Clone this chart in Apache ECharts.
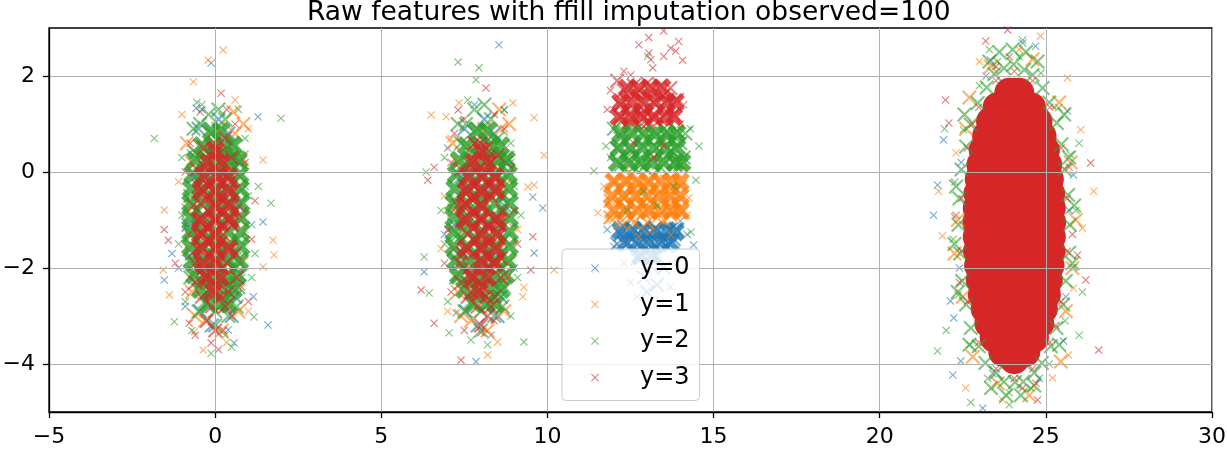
<!DOCTYPE html>
<html>
<head>
<meta charset="utf-8">
<title>Raw features with ffill imputation</title>
<script src="https://cdn.jsdelivr.net/npm/echarts@6/dist/echarts.min.js"></script>
<style>
html, body { margin: 0; padding: 0; background: #fff; }
#main { width: 1227px; height: 450px; }
</style>
</head>
<body>
<div id="main"></div>
<script>
// classes and tick values
var classNames = ['y=0', 'y=1', 'y=2', 'y=3'];
var yTicks = [-4, -2, 0, 2];

// y=0 (blue)
var y0Dense = [
    [-0.5,0.9],[0.4,0.8],[0.7,-0.7],[-0.8,-1.1],[0.6,-2.6],[-0.3,-2.2],[0.2,-0.4],[-0.6,-0.1],[0.5,-3.0],[-0.1,-1.4],[0.3,-1.8],[-0.45,-2.9],
    [-0.7,-1.7],[0.75,0.2],[0.1,1.1],[-0.1,-3.2],
    [7.5,0.9],[8.4,0.8],[8.7,-0.7],[7.2,-1.1],[8.6,-2.6],[7.7,-2.2],[8.2,-0.4],[7.4,-0.1],[8.5,-3.0],[7.9,-1.4],[8.3,-1.8],[7.55,-2.9],
    [7.3,-1.7],[8.75,0.2],[8.1,1.1],[7.9,-3.2],
    [12.2,-1.3],[12.6,-1.2],[13.0,-1.35],[13.4,-1.25],[13.8,-1.4],[12.4,-1.5],[12.8,-1.55],[13.2,-1.5],[13.6,-1.55],[12.9,-1.15],
    [13.3,-1.75],[12.7,-1.8],[13.1,-1.95],[13.5,-2.0],[12.9,-2.2],[13.3,-2.35],[13.0,-2.5],[12.3,-1.15],[13.7,-1.2],
    [12.5,-1.35],[13.2,-1.2],[13.9,-1.2],[12.1,-1.5],[13.5,-1.4],[12.9,-1.4]
];
var y0Sparse = [
    [-0.12,2.27],[-0.57,1.33],[-0.4,1.3],[1.29,1.15],[1.59,-3.19],[1.15,-2.6],[-1.53,-2.25],[-1.1,-2.0],[0.39,-3.29],[0.57,-3.56],
    [1.44,-1.04],[-0.75,0.4],[0.9,-0.3],[1.1,-1.1],[0.8,-2.2],[-0.9,-2.8],[0.45,0.3],[-1.3,-1.7],
    [8.54,2.65],[9.86,-0.75],[7.85,-3.95],[6.29,-2.08],[9.6,-1.69],[7.25,-2.94],[8.7,1.29],[9.56,-0.52],[7.0,0.5],[9.0,-2.0],
    [6.9,-1.3],[8.9,0.2],[7.8,1.4],[8.3,-3.4],
    [11.8,-1.2],[14.0,-1.02],[14.4,-1.52],[11.46,-2.04],[14.2,-1.3],[12.0,-1.55],[12.5,-2.3],[13.7,-2.4],[13.4,-2.7],[12.7,-2.6],
    [13.9,-1.9],[12.3,-1.9],[13.6,-1.1],
    [21.74,-0.27],[21.62,-0.9],[21.92,0.67],[22.2,-4.23],[22.44,-3.94],[23.1,-4.92],[22.23,-3.04],[22.13,-2.69],[23.34,2.33],
    [24.3,2.69],[24.69,2.62],[25.65,1.27],[25.83,-0.06],[25.53,-3.52],[25.7,-0.8],[22.4,-2.0],[25.6,-2.6],[22.45,0.2],[23.2,2.0],
    [24.8,-4.3],[23.4,-4.2]
];
var y0Mass = [
    [12.2,-1.22],[12.55,-1.22],[12.9,-1.22],[13.25,-1.22],[13.6,-1.22],[13.85,-1.25],
    [12.35,-1.47],[12.7,-1.47],[13.05,-1.47],[13.4,-1.47],[13.7,-1.47],
    [12.8,-1.75],[13.15,-1.75]
];

// y=1 (orange)
var y1Dense = [
    [0.6,0.8],[0.8,0.3],[0.7,-0.3],[-0.7,0.2],[-0.8,-0.8],[0.8,-1.9],[-0.7,-2.5],[0.3,-2.7],[-0.3,-3.1],[0.1,0.9],[-0.3,0.5],
    [0.5,-1.5],[-0.5,-1.2],[0.2,-3.3],[0.85,1.0],[-0.55,-2.0],[0.4,0.1],[-0.1,-2.3],
    [-0.8,-1.6],[0.75,-1.0],[0.55,1.25],[-0.6,-3.0],[0.7,-2.9],[-0.85,0.6],[0.35,0.5],[0.0,-1.4],
    [8.6,0.9],[8.8,0.3],[8.7,-0.3],[7.3,0.2],[7.2,-0.8],[8.8,-1.9],[7.3,-2.5],[8.3,-2.7],[7.7,-3.1],[8.1,0.9],[7.7,0.5],
    [8.5,-1.5],[7.5,-1.2],[8.2,-3.3],[8.85,1.0],[7.45,-2.0],[8.4,0.1],[7.9,-2.3],
    [7.2,-1.6],[8.75,-1.0],[8.55,1.3],[7.4,-3.0],[8.7,-2.9],[7.15,0.6],[8.35,0.5],[8.0,-1.4],
    [12.0,-0.2],[12.4,-0.15],[12.8,-0.25],[13.2,-0.1],[13.6,-0.2],[14.0,-0.3],[11.9,-0.6],[12.3,-0.55],[12.7,-0.5],[13.1,-0.6],
    [13.5,-0.5],[13.9,-0.65],[12.1,-0.9],[12.5,-0.95],[12.9,-0.85],[13.3,-0.95],[13.7,-0.9],[12.6,-0.35],[13.4,-0.4],[12.2,-1.05],
    [13.0,-1.05],[12.2,-0.35],[13.0,-0.35],[13.8,-0.4],[12.4,-0.75],[12.8,-0.7],[13.2,-0.8],[13.6,-0.75],[14.05,-0.85],
    [11.9,-0.95],[13.5,-1.0],[12.6,-1.05],
    [25.8,-2.0],[25.6,-2.9],[25.75,0.2],[22.35,-1.0],[22.5,-2.6],[22.6,0.9],[23.35,2.2],[24.6,2.35],[23.55,-4.4],[24.5,-4.65],
    [22.8,-3.85],[25.45,-3.95],[25.4,1.45],[22.7,1.55],[25.9,-1.0],[22.25,-1.7]
];
var y1Sparse = [
    [0.24,2.54],[-0.21,2.33],[-0.66,1.88],[1.74,-1.42],[1.77,-1.73],[1.44,0.25],[1.44,-1.98],[-1.56,-2.04],[-1.38,-2.56],
    [-1.53,-0.79],[-0.36,-3.71],[-0.63,-3.33],[1.0,0.9],[-1.1,-0.2],[1.0,-2.9],[0.9,-1.2],[-1.0,1.2],[0.6,1.5],[0.35,-3.55],
    [6.5,1.19],[9.6,1.13],[9.9,0.35],[10.2,-2.04],[9.41,-0.31],[8.2,-3.81],[8.5,-3.54],[9.29,-2.4],[9.26,-2.6],[6.95,1.15],
    [7.34,1.44],[8.96,1.44],[9.6,-0.27],[6.9,-0.5],[6.8,-1.6],[7.0,-2.9],[9.1,-1.2],[7.1,0.7],
    [11.52,-0.85],[14.26,-0.54],[11.7,-0.3],[14.2,-0.9],[12.75,-1.35],[13.71,-1.31],[11.8,-1.0],[14.1,0.05],[13.1,-1.25],[12.4,0.05],
    [26.44,-0.4],[26.05,0.88],[25.68,-3.81],[25.65,1.96],[22.59,-4.5],[21.77,-0.4],[21.89,-1.33],[24.84,2.83],[25.2,-4.29],
    [26.1,-1.17],[25.83,-2.42],[23.0,2.3],[23.7,-4.75],[22.3,0.4],[24.2,2.55]
];
var y1Mass = [
    [12.0,-0.2],[12.35,-0.2],[12.7,-0.2],[13.05,-0.2],[13.4,-0.2],[13.75,-0.2],[14.0,-0.2],
    [11.95,-0.5],[12.3,-0.5],[12.65,-0.5],[13.0,-0.5],[13.35,-0.5],[13.7,-0.5],[14.0,-0.5],
    [12.0,-0.8],[12.35,-0.8],[12.7,-0.8],[13.05,-0.8],[13.4,-0.8],[13.75,-0.8],[14.0,-0.8]
];

// y=2 (green)
var y2Dense = [
    [-0.6,0.4],[0.5,0.6],[-0.1,0.8],[0.2,0.2],[-0.5,-0.4],[0.6,-0.5],[-0.7,-1.3],[0.7,-1.4],[-0.4,-2.3],[0.5,-2.4],[0,-2.9],
    [-0.3,-2.7],[0.4,-3.0],[-0.6,-1.9],[0.6,-2.0],[0.05,-1.2],[-0.2,-0.3],[0.35,-0.9],[-0.35,-1.6],[0.15,-2.1],[-0.65,0.9],
    [0.3,1.1],[-0.2,1.2],[0.75,-0.1],[-0.75,-0.5],[0.1,-0.6],[-0.5,-2.9],[0.65,-2.8],[-0.15,-1.9],[0.5,-1.1],
    [-0.4,0.2],[0.4,-0.1],[0.0,0.1],[-0.1,-0.6],[0.6,-1.8],[-0.6,-1.0],[0.2,-1.6],[-0.25,-2.5],[0.3,-2.3],[0.7,-2.4],
    [-0.75,-2.2],[0.1,1.3],[-0.45,1.0],[0.6,0.3],[0.0,-3.2],
    [7.4,0.6],[8.5,0.7],[7.9,0.9],[8.2,0.3],[7.5,-0.4],[8.6,-0.5],[7.3,-1.3],[8.7,-1.4],[7.6,-2.3],[8.5,-2.4],[8.0,-2.9],
    [7.7,-2.7],[8.4,-3.0],[7.4,-1.9],[8.6,-2.0],[8.05,-1.2],[7.8,-0.3],[8.35,-0.9],[7.65,-1.6],[8.15,-2.1],[7.3,1.0],
    [8.3,1.1],[7.8,1.3],[8.75,-0.1],[7.25,-0.6],[8.1,-0.6],[7.5,-2.9],[8.65,-2.8],[7.85,-1.9],[8.5,-1.1],
    [7.6,0.2],[8.4,-0.1],[8.0,0.1],[7.9,-0.6],[8.6,-1.7],[7.4,-1.0],[8.2,-1.6],[7.75,-2.5],[8.3,-2.3],[8.7,-2.4],
    [7.25,-2.2],[8.1,1.4],[7.55,1.0],[8.6,0.3],[8.0,-3.3],
    [12.2,0.15],[12.6,0.1],[13.0,0.2],[13.4,0.1],[13.8,0.2],[14.1,0.3],[12.1,0.5],[12.5,0.45],[12.9,0.55],[13.3,0.5],
    [13.7,0.45],[14.0,0.6],[12.3,0.85],[12.7,0.9],[13.1,0.8],[13.5,0.9],[13.9,0.85],[12.8,0.3],[13.6,0.7],
    [12.4,0.3],[13.2,0.3],[14.0,0.15],[12.2,0.7],[13.0,0.7],[13.4,0.7],[13.8,0.65],[12.5,0.95],[12.9,0.1],[13.6,0.35],
    [12.0,0.9],[14.15,0.8],
    [25.72,-1.1],[25.67,-0.48],[25.57,0.05],[25.47,0.58],[25.33,1.02],[25.1,1.45],[24.9,1.75],[24.6,2.02],[24.35,2.13],
    [24.03,2.24],[23.74,2.16],[23.45,2.04],[23.22,1.76],[22.95,1.44],[22.74,0.99],[22.6,0.53],[22.46,0.05],[22.4,-0.55],
    [22.37,-1.1],[22.42,-1.7],[22.48,-2.27],[22.6,-2.76],[22.74,-3.25],[22.98,-3.63],[23.18,-3.98],[23.5,-4.18],
    [23.74,-4.37],[24.07,-4.38],[24.32,-4.37],[24.65,-4.18],[24.88,-3.98],[25.15,-3.63],[25.32,-3.25],[25.52,-2.76],
    [25.6,-2.27],[25.7,-1.68],
    [23.6,2.5],[24.0,2.55],[24.4,2.5],[23.3,2.3],[24.75,2.3],[23.35,-4.5],[23.8,-4.65],[24.25,-4.65],[24.65,-4.45],
    [22.3,-0.3],[22.25,-1.5],[25.85,-0.7],[25.8,-1.9],[22.35,-2.5],[25.7,0.3],[22.55,1.2],[25.55,1.2],[22.7,-3.6],[25.4,-3.6]
];
var y2Sparse = [
    [-1.83,0.7],[1.98,1.12],[-1.23,-3.12],[1.68,-0.65],[1.17,-3.02],[-0.12,-3.78],[-1.0,0.3],[1.0,-0.5],[-1.1,-1.5],[1.1,-2.2],
    [-0.9,-2.7],[-0.4,1.4],[0.7,1.3],[0.3,-3.4],[1.3,-0.3],[0.9,0.7],[-1.0,-0.9],[1.2,-1.7],[-0.7,-3.3],[0.5,-3.65],[-0.55,1.45],
    [7.31,2.29],[7.94,2.17],[7.85,1.92],[6.44,-2.52],[7.04,-3.35],[9.29,-3.54],[6.29,-1.77],[6.35,0.0],[6.9,0.3],[9.0,-0.3],
    [6.9,-1.5],[9.1,-2.2],[7.0,-2.7],[8.9,-3.0],[7.6,1.5],[8.7,1.3],[8.2,-3.6],[7.7,-3.5],[9.2,-0.9],[6.8,-0.8],[8.9,0.6],
    [11.4,0.02],[14.56,0.54],[11.76,0.54],[14.47,-0.17],[13.02,2.41],[12.1,1.05],[14.3,0.9],[12.9,-0.4],[13.3,-0.7],[12.4,-0.8],
    [11.9,0.3],[14.32,-1.25],[13.8,-0.3],
    [25.9,-0.8],[25.74,0.36],[25.39,1.34],[24.85,2.06],[24.2,2.4],[23.55,2.3],[23.0,1.8],[22.52,0.88],[22.26,-0.21],
    [22.21,-1.4],[22.36,-2.56],[22.71,-3.6],[23.25,-4.3],[23.9,-4.6],[24.55,-4.5],[25.1,-4.0],[25.58,-3.1],[25.84,-1.99],
    [23.3,2.55],[24.3,2.75],[22.74,-4.8],[21.74,-3.73],[23.9,-4.85],[22.0,-3.3],[26.0,-3.4],[26.0,0.6],[21.95,0.9],[26.1,-2.5]
];
var y2Mass = [
    [-0.12,0.85],[0.18,0.85],
    [-0.4,0.55],[-0.05,0.55],[0.3,0.55],[0.55,0.55],
    [-0.6,0.25],[-0.25,0.25],[0.1,0.25],[0.45,0.25],[0.7,0.25],
    [-0.68,-0.05],[-0.32,-0.05],[0.03,-0.05],[0.4,-0.05],[0.75,-0.05],
    [-0.72,-0.35],[-0.35,-0.35],[0.02,-0.35],[0.38,-0.35],[0.76,-0.35],
    [-0.74,-0.65],[-0.36,-0.65],[0.02,-0.65],[0.4,-0.65],[0.78,-0.65],
    [-0.74,-0.95],[-0.36,-0.95],[0.02,-0.95],[0.4,-0.95],[0.78,-0.95],
    [-0.74,-1.25],[-0.36,-1.25],[0.02,-1.25],[0.4,-1.25],[0.78,-1.25],
    [-0.74,-1.55],[-0.36,-1.55],[0.02,-1.55],[0.4,-1.55],[0.78,-1.55],
    [-0.7,-1.85],[-0.34,-1.85],[0.02,-1.85],[0.38,-1.85],[0.74,-1.85],
    [-0.62,-2.15],[-0.28,-2.15],[0.05,-2.15],[0.4,-2.15],[0.68,-2.15],
    [-0.45,-2.45],[-0.1,-2.45],[0.25,-2.45],[0.55,-2.45],
    [-0.2,-2.75],[0.15,-2.75],[0.4,-2.75],
    [7.87,0.85],[8.2,0.85],
    [7.56,0.55],[7.95,0.55],[8.33,0.55],[8.6,0.55],
    [7.34,0.25],[7.72,0.25],[8.11,0.25],[8.5,0.25],[8.77,0.25],
    [7.25,-0.05],[7.65,-0.05],[8.03,-0.05],[8.44,-0.05],[8.83,-0.05],
    [7.21,-0.35],[7.62,-0.35],[8.02,-0.35],[8.42,-0.35],[8.84,-0.35],
    [7.18,-0.65],[7.6,-0.65],[8.02,-0.65],[8.44,-0.65],[8.86,-0.65],
    [7.18,-0.95],[7.6,-0.95],[8.02,-0.95],[8.44,-0.95],[8.86,-0.95],
    [7.18,-1.25],[7.6,-1.25],[8.02,-1.25],[8.44,-1.25],[8.86,-1.25],
    [7.18,-1.55],[7.6,-1.55],[8.02,-1.55],[8.44,-1.55],[8.86,-1.55],
    [7.23,-1.85],[7.63,-1.85],[8.02,-1.85],[8.42,-1.85],[8.81,-1.85],
    [7.32,-2.15],[7.69,-2.15],[8.05,-2.15],[8.44,-2.15],[8.75,-2.15],
    [7.5,-2.45],[7.89,-2.45],[8.27,-2.45],[8.6,-2.45],
    [7.78,-2.75],[8.16,-2.75],[8.44,-2.75],
    [12.1,0.2],[12.45,0.2],[12.8,0.2],[13.15,0.2],[13.5,0.2],[13.85,0.2],[14.05,0.2],
    [12.15,0.5],[12.5,0.5],[12.85,0.5],[13.2,0.5],[13.55,0.5],[13.9,0.5],
    [12.2,0.8],[12.55,0.8],[12.9,0.8],[13.25,0.8],[13.6,0.8],[13.9,0.8]
];

// y=3 (red)
var y3Dense = [
    [0,-1],[-0.3,-0.6],[0.3,-0.7],[-0.2,-1.4],[0.25,-1.3],[-0.5,-1.0],[0.5,-1.1],[0,-0.2],[-0.3,0.1],[0.25,-0.05],[0,-1.8],
    [-0.35,-2.0],[0.35,-1.9],[0.05,-2.4],[-0.1,-0.9],[0.1,-0.5],[-0.55,-1.6],[0.55,-0.4],[-0.1,-2.8],[0.4,-2.5],[-0.5,-0.3],
    [0.15,0.4],[-0.6,-2.3],[0.15,-1.5],[-0.25,-3.1],[0.6,-1.7],[-0.65,-0.7],[0.3,0.7],[-0.35,0.5],[0.65,-2.2],
    [-0.2,-0.3],[0.4,-1.0],[-0.4,-1.3],[0.2,-2.0],[-0.2,-2.2],[0.45,-0.2],[-0.45,-0.65],[0.05,-0.75],[-0.05,-1.6],[0.3,-2.8],
    [-0.4,-2.6],[0.5,0.3],[-0.55,0.05],[0.0,0.6],[0.2,-1.1],[-0.25,-1.15],[0.6,-0.8],[-0.6,-1.9],[0.15,-2.6],[0.0,-3.3],
    [8.0,-1.0],[7.7,-0.55],[8.3,-0.5],[7.8,-1.4],[8.25,-1.3],[7.45,-1.0],[8.55,-1.1],[8.0,-0.1],[7.7,0.15],[8.3,0.2],[8.0,-1.8],
    [7.65,-2.0],[8.35,-1.9],[8.05,-2.4],[7.85,-0.9],[8.1,-0.4],[7.45,-1.7],[8.5,-0.3],[7.9,-2.8],[8.4,-2.6],[7.55,-0.3],
    [8.15,0.5],[7.4,-2.3],[8.1,-1.5],[7.8,0.6],[8.6,-1.8],[7.3,-0.7],[8.6,-2.2],[7.7,-2.5],[8.2,-3.0],
    [7.8,-0.3],[8.4,-1.0],[7.6,-1.3],[8.2,-2.0],[7.8,-2.2],[8.45,-0.15],[7.55,-0.65],[8.05,-0.75],[7.95,-1.6],[8.3,-2.8],
    [7.6,-2.6],[8.5,0.35],[7.4,0.05],[8.0,0.6],[8.2,-1.1],[7.75,-1.15],[8.65,-0.8],[7.35,-1.9],[8.15,-2.6],[8.0,-3.2],
    [12.2,1.15],[12.6,1.1],[13.0,1.2],[13.4,1.1],[13.8,1.2],[12.4,1.45],[12.8,1.5],[13.2,1.45],[13.6,1.5],[12.6,1.8],
    [13.0,1.85],[13.4,1.8],[12.3,1.7],[13.7,1.75],[12.9,1.3],[12.5,1.25],
    [12.1,1.9],[12.2,1.4],[12.8,1.2],[13.2,1.15],[13.6,1.25],[13.9,1.5],[12.7,1.65],[13.1,1.65],[13.5,1.6],[12.45,1.05],[13.05,1.05]
];
var y3Sparse = [
    [-1.53,-1.2],[-1.41,-1.42],[-0.78,-3.15],[-0.12,-3.56],[0.18,1.64],[-0.8,-1.3],[0.85,-0.8],[-0.75,0.6],[0.6,1.0],[-0.9,-2.5],
    [0.8,-2.4],[0.35,1.3],[-0.45,1.25],[-1.2,-1.9],[1.1,-1.4],[0.25,-3.3],[0.5,-3.0],[-0.9,0.0],[0.9,0.2],[1.0,-2.7],[-0.6,-3.4],
    [0.1,-3.7],[1.2,-0.6],
    [6.2,-2.46],[6.59,-3.15],[7.4,-3.92],[8.0,-3.35],[9.56,-1.35],[6.4,-0.17],[6.59,0.1],[9.5,-2.04],[7.31,1.29],[8.15,1.75],
    [7.0,-1.2],[9.0,-0.8],[7.2,0.8],[8.7,0.9],[7.1,-2.5],[8.8,-2.2],[8.4,1.2],[7.5,1.1],[6.9,-1.9],[9.1,-1.5],[7.5,-3.3],
    [8.4,-3.1],[7.1,0.2],[8.9,0.1],
    [13.5,2.94],[13.05,2.8],[12.75,2.65],[13.71,2.58],[13.95,2.72],[13.86,2.52],[14.07,2.33],[13.5,2.41],[13.11,2.34],
    [13.17,2.17],[12.3,2.1],[12.51,2.02],[13.05,2.48],[11.8,1.3],[14.1,1.4],[11.9,1.7],[14.0,1.0],[12.6,0.6],[13.2,0.3],
    [13.5,0.55],[12.9,0.95],
    [25.64,-0.55],[25.46,0.5],[25.12,1.35],[24.6,1.9],[24.05,2.1],[23.5,1.9],[22.98,1.35],[22.64,0.5],[22.46,-0.55],
    [22.46,-1.65],[22.64,-2.7],[22.98,-3.55],[23.5,-4.1],[24.05,-4.3],[24.6,-4.1],[25.12,-3.55],[25.46,-2.7],[25.64,-1.65],
    [21.98,1.5],[23.85,2.96],[26.35,0.19],[26.2,-2.25],[26.59,-3.71],[24.75,-4.75],[23.19,2.73],[22.08,1.02],[25.95,-1.73],
    [25.8,-1.3],[22.3,-0.9],[25.7,0.1],[22.4,-2.3],[23.9,2.4],[24.3,-4.5],[23.5,2.2],[24.7,-4.4],[22.8,1.0],[25.3,-3.2]
];
var y3Mass = [
    [0.0,0.45],
    [-0.2,0.2],[0.2,0.2],
    [-0.35,-0.1],[0.05,-0.1],[0.4,-0.1],
    [-0.42,-0.4],[0.0,-0.4],[0.42,-0.4],
    [0.0,-0.7],[0.45,-0.7],
    [-0.45,-1.0],[0.0,-1.0],[0.45,-1.0],
    [-0.45,-1.3],[0.0,-1.3],
    [-0.42,-1.6],[0.02,-1.6],[0.42,-1.6],
    [-0.38,-1.9],[0.02,-1.9],
    [-0.25,-2.2],[0.15,-2.2],
    [-0.05,-2.5],
    [8.0,0.45],
    [7.8,0.2],[8.2,0.2],
    [7.62,-0.1],[8.03,-0.1],[8.42,-0.1],
    [7.55,-0.4],[8.0,-0.4],[8.46,-0.4],
    [7.52,-0.7],[8.0,-0.7],
    [7.52,-1.0],[8.0,-1.0],[8.5,-1.0],
    [8.0,-1.3],[8.5,-1.3],
    [7.55,-1.6],[8.02,-1.6],[8.46,-1.6],
    [8.02,-1.9],[8.42,-1.9],
    [7.75,-2.2],[8.18,-2.2],
    [7.95,-2.5],
    [12.15,1.15],[12.5,1.15],[12.85,1.15],[13.2,1.15],[13.55,1.15],[13.8,1.15],
    [12.2,1.45],[12.55,1.45],[12.9,1.45],[13.25,1.45],[13.6,1.45],[13.85,1.45],
    [12.4,1.75],[12.75,1.75],[13.1,1.75],[13.45,1.75]
];
// solid red bulk of the cluster near x=24
var y3Bulk = [
    [23.9,1.65],[24.05,1.65],[24.2,1.65],
    [23.55,1.35],[24.05,1.35],[24.55,1.35],
    [23.35,1.05],[23.82,1.05],[24.28,1.05],[24.75,1.05],
    [23.23,0.75],[23.78,0.75],[24.32,0.75],[24.87,0.75],
    [23.13,0.45],[23.59,0.45],[24.05,0.45],[24.51,0.45],[24.97,0.45],
    [23.06,0.15],[23.55,0.15],[24.05,0.15],[24.55,0.15],[25.04,0.15],
    [23.01,-0.15],[23.53,-0.15],[24.05,-0.15],[24.57,-0.15],[25.09,-0.15],
    [22.97,-0.45],[23.51,-0.45],[24.05,-0.45],[24.59,-0.45],[25.13,-0.45],
    [22.95,-0.75],[23.5,-0.75],[24.05,-0.75],[24.6,-0.75],[25.15,-0.75],
    [22.94,-1.05],[23.5,-1.05],[24.05,-1.05],[24.6,-1.05],[25.16,-1.05],
    [22.95,-1.35],[23.5,-1.35],[24.05,-1.35],[24.6,-1.35],[25.15,-1.35],
    [22.96,-1.65],[23.5,-1.65],[24.05,-1.65],[24.6,-1.65],[25.14,-1.65],
    [22.99,-1.95],[23.52,-1.95],[24.05,-1.95],[24.58,-1.95],[25.11,-1.95],
    [23.04,-2.25],[23.55,-2.25],[24.05,-2.25],[24.55,-2.25],[25.06,-2.25],
    [23.1,-2.55],[23.58,-2.55],[24.05,-2.55],[24.52,-2.55],[25.0,-2.55],
    [23.19,-2.85],[23.62,-2.85],[24.05,-2.85],[24.48,-2.85],[24.91,-2.85],
    [23.3,-3.15],[23.68,-3.15],[24.05,-3.15],[24.42,-3.15],[24.8,-3.15],
    [23.46,-3.45],[23.85,-3.45],[24.25,-3.45],[24.64,-3.45],
    [23.72,-3.75],[24.05,-3.75],[24.38,-3.75],
    [24.05,-3.9]
];

var palette = ['#1f77b4', '#ff7f0e', '#2ca02c', '#d62728'];
var crossPath = 'path://M0,1L1,0L5,4L9,0L10,1L6,5L10,9L9,10L5,6L1,10L0,9L4,5Z';
var heavyCross = 'path://M0,2.2L2.2,0L5,2.8L7.8,0L10,2.2L7.2,5L10,7.8L7.8,10L5,7.2L2.2,10L0,7.8L2.8,5Z';
var fontName = 'DejaVu Sans';

function minusFmt(v) {
    return String(v).replace('-', '\u2212');
}

var denseData = [y0Dense, y1Dense, y2Dense, y3Dense];
var sparseData = [y0Sparse, y1Sparse, y2Sparse, y3Sparse];
var massData = [y0Mass, y1Mass, y2Mass, y3Mass];

// series go in class order so later classes paint over earlier ones
var seriesList = [];
classNames.forEach(function (name, i) {
    seriesList.push({
        name: name, type: 'scatter', symbol: crossPath, symbolSize: 15,
        data: denseData[i],
        itemStyle: {color: palette[i], opacity: 0.6}
    });
    seriesList.push({
        name: name, type: 'scatter', symbol: crossPath, symbolSize: 8,
        data: sparseData[i],
        itemStyle: {color: palette[i], opacity: 0.6}
    });
    seriesList.push({
        name: name, type: 'scatter', symbol: heavyCross, symbolSize: 19,
        data: massData[i],
        itemStyle: {color: palette[i], opacity: 0.8}
    });
});
seriesList.push({
    name: 'y=3', type: 'scatter', symbol: 'circle', symbolSize: 30, z: 1,
    data: y3Bulk,
    itemStyle: {color: palette[3], opacity: 1}
});

var chart = echarts.init(document.getElementById('main'));
chart.setOption({
    animation: false,
    title: {
        text: 'Raw features with ffill imputation observed=100',
        left: 307, top: 0, padding: 0,
        textStyle: {fontSize: 26.5, fontWeight: 'normal', color: '#000', fontFamily: fontName}
    },
    grid: {
        left: 49, right: 15, top: 28, bottom: 38,
        show: true, borderColor: '#000', borderWidth: 1.3, backgroundColor: 'transparent',
        outerBoundsMode: 'none'
    },
    legend: {
        data: classNames, orient: 'vertical', left: 562, top: 249,
        itemWidth: 8, itemHeight: 8, itemGap: 12.5,
        padding: [7, 10, 11, 29],
        backgroundColor: 'rgba(255,255,255,0.8)', borderColor: '#cccccc', borderWidth: 1, borderRadius: 4,
        textStyle: {fontSize: 24, color: '#000', fontFamily: fontName, padding: [0, 0, 0, 36]}
    },
    xAxis: {
        type: 'value', min: -5, max: 30, interval: 5, z: 3,
        axisLine: {show: true, onZero: false, lineStyle: {color: '#000', width: 1.3}},
        axisTick: {show: true, length: 6, lineStyle: {color: '#000', width: 1.3}},
        axisLabel: {fontSize: 22, color: '#000', fontFamily: fontName, margin: 14, formatter: minusFmt},
        splitLine: {show: true, lineStyle: {color: '#b0b0b0', width: 1}}
    },
    yAxis: {
        type: 'value', min: -5, max: 3, z: 3,
        axisLine: {show: true, onZero: false, lineStyle: {color: '#000', width: 1.3}},
        axisTick: {show: true, length: 6, customValues: yTicks, lineStyle: {color: '#000', width: 1.3}},
        axisLabel: {fontSize: 22, color: '#000', fontFamily: fontName, margin: 14, customValues: yTicks, formatter: minusFmt},
        splitLine: {show: true, lineStyle: {color: '#b0b0b0', width: 1}}
    },
    series: seriesList
});
</script>
</body>
</html>
